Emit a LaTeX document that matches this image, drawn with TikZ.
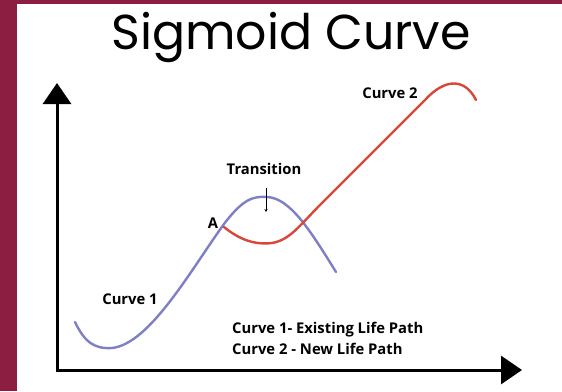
\documentclass[tikz,border=0pt]{standalone}
\usepackage{fontspec}
\setmainfont{Open Sans}
\newfontfamily\titlefont{Poppins}
\usetikzlibrary{arrows.meta}
\definecolor{maroon}{HTML}{8B1E41}
\definecolor{curveblue}{HTML}{7F7FC6}
\definecolor{curvered}{HTML}{D9473B}
\tikzset{
  axisline/.style={line width=3pt, -{Triangle[width=28pt,length=21pt]}},
  curveone/.style={line width=2.4pt, curveblue, line cap=round},
  curvetwo/.style={line width=2.4pt, curvered, line cap=round},
  lbl/.style={font=\fontsize{14.8}{16}\selectfont\bfseries, inner sep=0pt},
}
\begin{document}
\begin{tikzpicture}[x=1pt,y=-1pt]
\useasboundingbox (0,0) rectangle (562,391);
\fill[white] (0,0) rectangle (562,391);
\fill[maroon] (0,0) rectangle (17,391);
\fill[maroon] (0,0) rectangle (562,4);

\node[inner sep=0pt, font=\titlefont\fontsize{49}{52}\selectfont] (title) at (291,37) {Sigmoid Curve};

\coordinate (origin) at (57,370);
\coordinate (ytop) at (57,83);
\coordinate (xend) at (522,370);
\draw[axisline] (origin) -- (ytop);
\draw[axisline] ([xshift=-1.5pt]origin) -- (xend);

% Curve 1
\coordinate (c1start) at (75,322);
\coordinate (c1min) at (112,348);
\coordinate (A) at (224,224);
\coordinate (c1peak) at (267,197);
\coordinate (c1end) at (336,272);
\draw[curveone] (c1start) .. controls (85,343) and (95,349) .. (c1min)
  .. controls (150,344) and (192,268) .. (A)
  .. controls (243,199) and (253,196) .. (c1peak)
  .. controls (290,198) and (310,230) .. (c1end);

% Curve 2
\coordinate (c2start) at (224,227);
\coordinate (c2min) at (272,243);
\coordinate (c2a) at (320,205);
\coordinate (c2b) at (425,100);
\coordinate (c2end) at (476,100);
\draw[curvetwo] (c2start) .. controls (240,240) and (255,245) .. (c2min)
  .. controls (290,240) and (300,225) .. (c2a)
  -- (c2b)
  .. controls (445,78) and (465,78) .. (c2end);

\node[lbl] (lA) at (213,223) {A};
\node[lbl] (ltrans) at (264,169) {Transition};
\coordinate (tr1) at (266,188);
\coordinate (tr2) at (266,212);
\draw[line width=0.8pt, -{Stealth[length=3pt,width=3pt]}] (tr1) -- (tr2);
\node[lbl] (lc1) at (130,299) {Curve 1};
\node[lbl] (lc2) at (390,93) {Curve 2};
\node[lbl, anchor=west] (leg1) at (232,330) {Curve 1- Existing Life Path};
\node[lbl, anchor=west] (leg2) at (232,349) {Curve 2 - New Life Path};
\end{tikzpicture}
\end{document}
